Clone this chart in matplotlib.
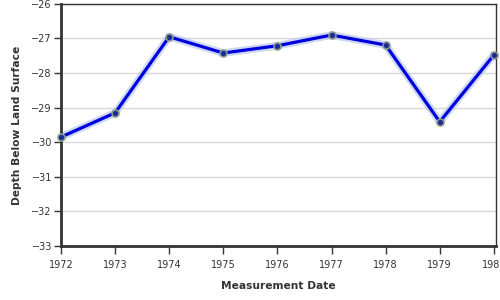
import matplotlib
matplotlib.use('Agg')
import matplotlib.pyplot as plt

years = [1972, 1973, 1974, 1975, 1976, 1977, 1978, 1979, 1980]
depth = [-29.85, -29.15, -26.95, -27.42, -27.21, -26.9, -27.19, -29.41, -27.48]
y_ticks = [-33, -32, -31, -30, -29, -28, -27, -26]

plt.rcParams['font.family'] = ['DejaVu Sans']

fig = plt.figure(figsize=(5, 3), dpi=100)
ax = fig.add_axes([0.122, 0.18, 0.870, 0.807])

ax.set_xlim(1972, 1980.04)
ax.set_ylim(-33, -26)
ax.set_yticks(y_ticks)
ax.set_xticks(years)
ax.set_xticklabels([str(y) for y in years])
ax.grid(axis='y', color='#d8d8d8', linewidth=1)
ax.set_axisbelow(True)

# soft glow under the line
ax.plot(years, depth, color='#b8c8f0', linewidth=5.5, alpha=0.7, solid_capstyle='round', zorder=2)
ax.plot(years, depth, color='#0000dd', linewidth=2.3, marker='o', markersize=5,
        markerfacecolor='#1a2a9a', markeredgecolor='#8a9a8a', markeredgewidth=1.2, zorder=3,
        clip_on=False)

for side in ['left', 'bottom']:
    ax.spines[side].set_linewidth(2)
    ax.spines[side].set_color('#333333')
for side in ['top', 'right']:
    ax.spines[side].set_linewidth(1)
    ax.spines[side].set_color('#333333')

ax.tick_params(axis='both', labelsize=7, colors='#333333', width=1)
ax.tick_params(axis='x', length=6, pad=4)
ax.tick_params(axis='y', length=5, pad=1.5)
ax.set_xlabel('Measurement Date', fontsize=7.7, fontweight='bold', color='#333333', labelpad=8)
ax.set_ylabel('Depth Below Land Surface', fontsize=7.7, fontweight='bold', color='#333333', labelpad=7)

fig.savefig('out.png', dpi=100)
